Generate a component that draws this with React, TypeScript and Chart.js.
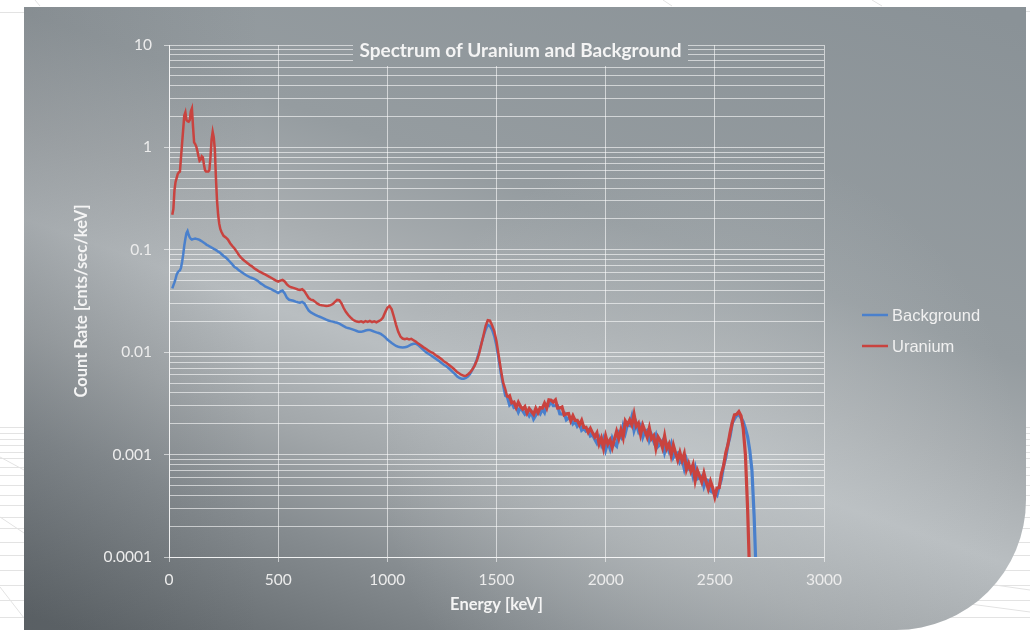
import React, { useEffect, useRef } from 'react';
import { Chart, registerables } from 'chart.js';

Chart.register(...registerables);

// ---------- data ----------
const chartTitle = 'Spectrum of Uranium and Background';
const xAxisTitle = 'Energy [keV]';
const yAxisTitle = 'Count Rate [cnts/sec/keV]';
const seriesNames = ['Background', 'Uranium'];

const energyKeV = [
  15, 20, 25, 30, 35, 40, 45, 50, 55, 60,
  65, 70, 75, 80, 85, 90, 95, 100, 105, 110,
  115, 120, 125, 130, 135, 140, 145, 150, 155, 160,
  165, 170, 175, 180, 185, 190, 195, 200, 205, 210,
  215, 220, 225, 230, 235, 240, 245, 250,
  260, 270, 280, 290, 300, 310, 320, 330, 340, 350,
  360, 370, 380, 390, 400, 410, 420, 430, 440, 450,
  460, 470, 480, 490, 500, 510, 520, 530, 540, 550,
  560, 570, 580, 590, 600, 610, 620, 630, 640, 650,
  660, 670, 680, 690, 700, 710, 720, 730, 740, 750,
  760, 770, 780, 790, 800, 810, 820, 830, 840, 850,
  860, 870, 880, 890, 900, 910, 920, 930, 940, 950,
  960, 970, 980, 990, 1000, 1010, 1020, 1030, 1040, 1050,
  1060, 1070, 1080, 1090, 1100, 1110, 1120, 1130, 1140, 1150,
  1160, 1170, 1180, 1190, 1200, 1210, 1220, 1230, 1240, 1250,
  1260, 1270, 1280, 1290, 1300, 1310, 1320, 1330, 1340, 1350,
  1360, 1370, 1380, 1390, 1400, 1410, 1420, 1430, 1440, 1450,
  1460, 1470, 1480, 1490, 1500, 1510, 1520, 1530, 1540, 1550,
  1560, 1570, 1580, 1590, 1600, 1610, 1620, 1630, 1640, 1650,
  1660, 1670, 1680, 1690, 1700, 1710, 1720, 1730, 1740, 1750,
  1760, 1770, 1780, 1790, 1800, 1810, 1820, 1830, 1840, 1850,
  1860, 1870, 1880, 1890, 1900, 1910, 1920, 1930, 1940, 1950,
  1960, 1970, 1980, 1990, 2000, 2010, 2020, 2030, 2040, 2050,
  2060, 2070, 2080, 2090, 2100, 2110, 2120, 2130, 2140, 2150,
  2160, 2170, 2180, 2190, 2200, 2210, 2220, 2230, 2240, 2250,
  2260, 2270, 2280, 2290, 2300, 2310, 2320, 2330, 2340, 2350,
  2360, 2370, 2380, 2390, 2400, 2410, 2420, 2430, 2440, 2450,
  2460, 2470, 2480, 2490, 2500, 2510, 2520, 2530, 2540, 2550,
  2560, 2570, 2580, 2590, 2600, 2610, 2620, 2630, 2640, 2650,
  2660, 2670, 2680, 2690,
];

const backgroundRate = [
  0.042, 0.045, 0.048, 0.052, 0.057, 0.060, 0.062, 0.063, 0.067, 0.076,
  0.090, 0.110, 0.128, 0.145, 0.152, 0.140, 0.132, 0.128, 0.126, 0.127,
  0.128, 0.129, 0.128, 0.127, 0.126, 0.125, 0.123, 0.121, 0.119, 0.117,
  0.115, 0.113, 0.111, 0.110, 0.108, 0.107, 0.105, 0.104, 0.102, 0.101,
  0.099, 0.098, 0.096, 0.095, 0.093, 0.091, 0.089, 0.087,
  0.084, 0.080, 0.076, 0.072, 0.068, 0.066, 0.063, 0.061, 0.059, 0.057,
  0.0555, 0.054, 0.053, 0.052, 0.0507, 0.049, 0.047, 0.0455, 0.044, 0.043,
  0.042, 0.041, 0.040, 0.039, 0.0378, 0.0392, 0.0400, 0.0375, 0.0340, 0.0325,
  0.0322, 0.0318, 0.0312, 0.0308, 0.0305, 0.0310, 0.0300, 0.0275, 0.0255, 0.0245,
  0.0238, 0.0232, 0.0226, 0.0222, 0.0218, 0.0213, 0.0208, 0.0204, 0.0201, 0.0199,
  0.0196, 0.0194, 0.0190, 0.0185, 0.0180, 0.0175, 0.0172, 0.0170, 0.0167, 0.0164,
  0.0161, 0.0158, 0.0158, 0.0160, 0.0163, 0.0165, 0.0165, 0.0162, 0.0159, 0.0156,
  0.0154, 0.0151, 0.0146, 0.0140, 0.0133, 0.0128, 0.0123, 0.0119, 0.0115, 0.0113,
  0.0112, 0.0111, 0.0112, 0.0113, 0.0116, 0.0119, 0.0121, 0.0121, 0.0118, 0.0113,
  0.0108, 0.0103, 0.0099, 0.0096, 0.0093, 0.0090, 0.0087, 0.0084, 0.0081, 0.0078,
  0.0075, 0.0073, 0.0070, 0.0067, 0.0064, 0.0061, 0.0058, 0.0056, 0.0055, 0.0055,
  0.0056, 0.0058, 0.0062, 0.0068, 0.0075, 0.0085, 0.0100, 0.0120, 0.0142, 0.0165,
  0.0185, 0.0180, 0.0165, 0.0143, 0.0115, 0.0085, 0.0062, 0.0048, 0.00375, 0.00364,
  0.00306, 0.00322, 0.00289, 0.00294, 0.0026, 0.00291, 0.00267, 0.00248, 0.00261, 0.00239,
  0.00259, 0.00223, 0.00242, 0.00264, 0.0025, 0.00278, 0.00257, 0.00306, 0.00301, 0.00329,
  0.00301, 0.003, 0.00299, 0.0025, 0.00249, 0.00254, 0.00219, 0.00228, 0.00227, 0.002,
  0.00211, 0.00189, 0.002, 0.00173, 0.0018, 0.00169, 0.00174, 0.00152, 0.00156, 0.00141,
  0.00129, 0.00146, 0.00125, 0.00144, 0.00111, 0.00131, 0.00114, 0.00144, 0.00127, 0.00121,
  0.00162, 0.00149, 0.00191, 0.00162, 0.00196, 0.00192, 0.00234, 0.00172, 0.00201, 0.0017,
  0.0019, 0.00148, 0.00168, 0.00173, 0.00137, 0.00155, 0.00135, 0.00154, 0.0012, 0.00126,
  0.00136, 0.00105, 0.00124, 0.00108, 0.00126, 0.00094, 0.00102, 0.00104, 0.00084, 0.0009,
  0.000727, 0.000883, 0.000728, 0.000755, 0.000614, 0.000743, 0.00058, 0.000595, 0.000616, 0.000491,
  0.000569, 0.000554, 0.000442, 0.000428, 0.000423, 0.000401, 0.00049, 0.000572, 0.000775, 0.000931,
  0.00125, 0.00151, 0.00203, 0.00223, 0.0024, 0.00247, 0.00228, 0.0021, 0.0018, 0.0015,
  0.0011, 0.0007, 0.00025, 0.00006,
];

const uraniumRate = [
  0.22, 0.25, 0.38, 0.46, 0.50, 0.55, 0.57, 0.58, 0.80, 1.10,
  1.50, 2.05, 2.20, 1.85, 1.80, 1.78, 1.85, 2.25, 2.40, 1.60,
  1.12, 1.08, 1.02, 0.92, 0.82, 0.74, 0.76, 0.82, 0.80, 0.68,
  0.60, 0.58, 0.58, 0.58, 0.60, 0.80, 1.20, 1.42, 1.25, 0.95,
  0.50, 0.30, 0.22, 0.18, 0.16, 0.150, 0.143, 0.137,
  0.132, 0.126, 0.116, 0.109, 0.103, 0.096, 0.089, 0.084, 0.080, 0.077,
  0.074, 0.071, 0.069, 0.066, 0.064, 0.062, 0.0605, 0.059, 0.0575, 0.056,
  0.0545, 0.053, 0.0515, 0.050, 0.0488, 0.0500, 0.0508, 0.0490, 0.0460, 0.0440,
  0.0430, 0.0425, 0.0418, 0.0410, 0.0405, 0.0412, 0.0395, 0.0365, 0.0338, 0.0326,
  0.0322, 0.0310, 0.0298, 0.0290, 0.0287, 0.0285, 0.0283, 0.0284, 0.0288, 0.0295,
  0.0310, 0.0324, 0.0322, 0.0300, 0.0270, 0.0248, 0.0232, 0.0220, 0.0210, 0.0203,
  0.0199, 0.0197, 0.0200, 0.0196, 0.0201, 0.0198, 0.0202, 0.0197, 0.0200, 0.0196,
  0.0201, 0.0206, 0.0218, 0.0245, 0.0272, 0.0282, 0.0262, 0.0222, 0.0185, 0.0158,
  0.0142, 0.0136, 0.0134, 0.0136, 0.0133, 0.0135, 0.0131, 0.0127, 0.0122, 0.0118,
  0.0114, 0.0110, 0.0107, 0.0103, 0.0100, 0.0098, 0.0094, 0.0091, 0.0088, 0.0085,
  0.0081, 0.0079, 0.0076, 0.0073, 0.0070, 0.0067, 0.0064, 0.0062, 0.0060, 0.0059,
  0.0059, 0.0061, 0.0064, 0.0068, 0.0074, 0.0083, 0.0096, 0.0118, 0.0145, 0.0180,
  0.0205, 0.0203, 0.0182, 0.0160, 0.0128, 0.0093, 0.0068, 0.0051, 0.00437, 0.00361,
  0.00375, 0.0032, 0.00326, 0.00288, 0.00324, 0.00295, 0.00278, 0.00294, 0.00254, 0.00281,
  0.00263, 0.00247, 0.00283, 0.00257, 0.00288, 0.00284, 0.00318, 0.00285, 0.00343, 0.0034,
  0.00326, 0.00342, 0.00285, 0.00286, 0.00292, 0.00244, 0.0025, 0.00252, 0.00214, 0.0024,
  0.00216, 0.00216, 0.00195, 0.00216, 0.00184, 0.00185, 0.00165, 0.0018, 0.00163, 0.00149,
  0.00163, 0.00127, 0.00145, 0.00116, 0.00152, 0.00127, 0.00139, 0.00117, 0.00141, 0.00169,
  0.00143, 0.00175, 0.00147, 0.00213, 0.00196, 0.00218, 0.00194, 0.00248, 0.0019, 0.00203,
  0.00157, 0.00194, 0.0017, 0.00148, 0.00182, 0.00143, 0.00153, 0.00116, 0.00149, 0.00137,
  0.00117, 0.00152, 0.00115, 0.00127, 0.000986, 0.00124, 0.00104, 0.00088, 0.00105, 0.000874,
  0.00102, 0.000714, 0.000822, 0.00069, 0.000795, 0.000558, 0.000702, 0.00062, 0.00054, 0.000661,
  0.000542, 0.000461, 0.00055, 0.000474, 0.000386, 0.000471, 0.000475, 0.000651, 0.000776, 0.00104,
  0.00125, 0.00165, 0.00206, 0.00245, 0.00248, 0.00263, 0.0024, 0.0018, 0.0010, 0.0003,
  0.00006, null, null, null,
];

const xTickValues = [0, 500, 1000, 1500, 2000, 2500, 3000];
const xTickLabels = ['0', '500', '1000', '1500', '2000', '2500', '3000'];
const yMajorValues = [0.0001, 0.001, 0.01, 0.1, 1, 10];
const yTickLabels = ['0.0001', '0.001', '0.01', '0.1', '1', '10'];
const yGridValues = [
  0.0001, 0.0002, 0.0003, 0.0004, 0.0005, 0.0006, 0.0007, 0.0008, 0.0009,
  0.001, 0.002, 0.003, 0.004, 0.005, 0.006, 0.007, 0.008, 0.009,
  0.01, 0.02, 0.03, 0.04, 0.05, 0.06, 0.07, 0.08, 0.09,
  0.1, 0.2, 0.3, 0.4, 0.5, 0.6, 0.7, 0.8, 0.9,
  1, 2, 3, 4, 5, 6, 7, 8, 9,
  10,
];

// ---------- styling ----------
const W = 1030;
const H = 630;
const BLUE = '#4a80cc';
const RED = '#c9433f';
const GRID = 'rgba(255,255,255,0.58)';
const AXIS = 'rgba(255,255,255,0.72)';
const TICK = '#ececec';
const TEXT = '#f4f4f4';
const NOISY_FROM_KEV = 1550;

function majorIndex(v: number): number {
  return yMajorValues.findIndex((m) => Math.abs(v / m - 1) < 1e-6);
}

function paintPanelFill(ctx: CanvasRenderingContext2D) {
  const g = ctx.createLinearGradient(572, -134, 278, 703);
  g.addColorStop(0, '#8a9297');
  g.addColorStop(0.36, '#959ca0');
  g.addColorStop(0.48, '#a8adb0');
  g.addColorStop(0.58, '#b9bec1');
  g.addColorStop(0.7, '#a2a7aa');
  g.addColorStop(0.81, '#868c90');
  g.addColorStop(1, '#5e6468');
  ctx.fillStyle = g;
  ctx.fillRect(0, 0, W, H);
  const r = ctx.createRadialGradient(700, 460, 0, 700, 460, 320);
  r.addColorStop(0, 'rgba(198,203,205,0.45)');
  r.addColorStop(1, 'rgba(198,203,205,0)');
  ctx.fillStyle = r;
  ctx.fillRect(0, 0, W, H);
  const l = ctx.createLinearGradient(24, 0, 260, 0);
  l.addColorStop(0, 'rgba(70,76,82,0.18)');
  l.addColorStop(1, 'rgba(70,76,82,0)');
  ctx.fillStyle = l;
  ctx.fillRect(0, 0, W, H);
}

function panelPath(ctx: CanvasRenderingContext2D) {
  const x0 = 24, y0 = 7, x1 = 1026, y1 = 630, R = 130;
  ctx.beginPath();
  ctx.moveTo(x0, y0);
  ctx.lineTo(x1, y0);
  ctx.lineTo(x1, y1 - R);
  ctx.arc(x1 - R, y1 - R, R, 0, Math.PI / 2);
  ctx.lineTo(x0, y1);
  ctx.closePath();
}

const decoLinesY = [427, 433, 439, 445, 452, 458, 467, 475, 485, 495, 505, 517, 528, 542, 555, 570, 585, 600, 617];

const backdropPlugin = {
  id: 'backdrop',
  beforeDraw(chart: any) {
    const ctx: CanvasRenderingContext2D = chart.ctx;
    ctx.save();
    ctx.fillStyle = '#ffffff';
    ctx.fillRect(0, 0, W, H);
    ctx.strokeStyle = '#e3e3e3';
    ctx.lineWidth = 1;
    ctx.beginPath();
    for (const y of decoLinesY) {
      ctx.moveTo(0, y + 0.5);
      ctx.lineTo(W, y + 0.5);
    }
    ctx.moveTo(0, 457); ctx.lineTo(24, 470);
    ctx.moveTo(0, 517); ctx.lineTo(24, 533);
    ctx.moveTo(0, 587); ctx.lineTo(24, 618);
    ctx.moveTo(940, 600); ctx.lineTo(1030, 612);
    ctx.moveTo(960, 580); ctx.lineTo(1030, 590);
    ctx.moveTo(0, 12.5); ctx.lineTo(24, 12.5);
    ctx.moveTo(1026, 11.5); ctx.lineTo(1030, 11.5);
    ctx.moveTo(35, 0); ctx.lineTo(40, 6);
    ctx.moveTo(663, 0); ctx.lineTo(672, 6);
    ctx.moveTo(872, 0); ctx.lineTo(882, 6);
    ctx.stroke();
    panelPath(ctx);
    ctx.clip();
    paintPanelFill(ctx);
    ctx.restore();
  },
  afterDraw(chart: any) {
    const ctx: CanvasRenderingContext2D = chart.ctx;
    // title box over the gridlines
    ctx.save();
    ctx.beginPath();
    ctx.rect(353, 36, 335, 30);
    ctx.clip();
    paintPanelFill(ctx);
    ctx.restore();
    ctx.save();
    ctx.fillStyle = TEXT;
    ctx.font = 'bold 19px Lato';
    ctx.textAlign = 'center';
    ctx.textBaseline = 'middle';
    ctx.fillText(chartTitle, 520.5, 51);
    // legend
    const items = [
      { name: seriesNames[0], color: BLUE, y: 315 },
      { name: seriesNames[1], color: RED, y: 346 },
    ];
    ctx.font = '16.5px "Liberation Sans"';
    ctx.textAlign = 'left';
    for (const it of items) {
      ctx.strokeStyle = it.color;
      ctx.lineWidth = 2.5;
      ctx.beginPath();
      ctx.moveTo(862, it.y);
      ctx.lineTo(888, it.y);
      ctx.stroke();
      ctx.fillStyle = '#f0f0f0';
      ctx.fillText(it.name, 892, it.y + 1);
    }
    ctx.restore();
  },
};

const noisyWidth = (c: any) => (c.p0.parsed.x >= NOISY_FROM_KEV ? 3.2 : 2.5);

export default function App() {
  const canvasRef = useRef<HTMLCanvasElement | null>(null);

  useEffect(() => {
    document.body.style.margin = '0';
    const canvas = canvasRef.current;
    if (!canvas) return;
    const chart = new Chart(canvas, {
      type: 'line',
      data: {
        datasets: [
          {
            label: seriesNames[0],
            data: energyKeV.map((e, i) => ({ x: e, y: backgroundRate[i] })),
            borderColor: BLUE,
            borderWidth: 2.5,
            segment: { borderWidth: noisyWidth },
            pointRadius: 0,
            tension: 0,
            spanGaps: false,
            order: 1,
          },
          {
            label: seriesNames[1],
            data: energyKeV.map((e, i) => ({ x: e, y: uraniumRate[i] })),
            borderColor: RED,
            borderWidth: 2.5,
            segment: { borderWidth: noisyWidth },
            pointRadius: 0,
            tension: 0,
            spanGaps: false,
            order: 0,
          },
        ],
      },
      options: {
        responsive: false,
        animation: false,
        events: [],
        devicePixelRatio: 1,
        layout: { padding: { left: 60, right: 206, top: 45, bottom: 0 } },
        plugins: {
          legend: { display: false },
          title: { display: false },
          tooltip: { enabled: false },
        },
        scales: {
          x: {
            type: 'linear',
            min: 0,
            max: 3000,
            afterBuildTicks: (s: any) => {
              s.ticks = xTickValues.map((v) => ({ value: v }));
            },
            afterFit: (s: any) => {
              s.height = 73;
            },
            grid: { color: GRID, lineWidth: 1, tickLength: 5, tickColor: GRID },
            border: { color: AXIS, width: 1 },
            ticks: {
              color: TICK,
              font: { family: 'Lato', size: 15.5 },
              padding: 9,
              maxRotation: 0,
              autoSkip: false,
              callback: (v: any) => {
                const k = xTickValues.indexOf(Number(v));
                return k >= 0 ? xTickLabels[k] : '';
              },
            },
            title: {
              display: true,
              text: xAxisTitle,
              color: TEXT,
              font: { family: 'Lato', size: 16.5, weight: 'bold' },
              padding: { top: 0, bottom: 15 },
            },
          },
          y: {
            type: 'logarithmic',
            min: 0.0001,
            max: 10,
            afterBuildTicks: (s: any) => {
              s.ticks = yGridValues.map((v) => ({ value: v, major: majorIndex(v) >= 0 }));
            },
            afterFit: (s: any) => {
              s.width = 109;
            },
            grid: {
              color: GRID,
              lineWidth: 1,
              tickLength: 5,
              tickColor: (c: any) => (c.tick && majorIndex(c.tick.value) >= 0 ? GRID : 'rgba(0,0,0,0)'),
            },
            border: { color: AXIS, width: 1 },
            ticks: {
              color: TICK,
              font: { family: 'Lato', size: 15.5 },
              padding: 12,
              autoSkip: false,
              callback: (v: any) => {
                const k = majorIndex(Number(v));
                return k >= 0 ? yTickLabels[k] : '';
              },
            },
            title: {
              display: true,
              text: yAxisTitle,
              color: TEXT,
              font: { family: 'Lato', size: 16.5, weight: 'bold' },
              padding: { top: 12, bottom: 0 },
            },
          },
        },
      },
      plugins: [backdropPlugin],
    } as any);
    return () => chart.destroy();
  }, []);

  return (
    <div style={{ width: W, height: H, position: 'relative', overflow: 'hidden' }}>
      <canvas ref={canvasRef} width={W} height={H} style={{ display: 'block', width: W, height: H }} />
    </div>
  );
}
